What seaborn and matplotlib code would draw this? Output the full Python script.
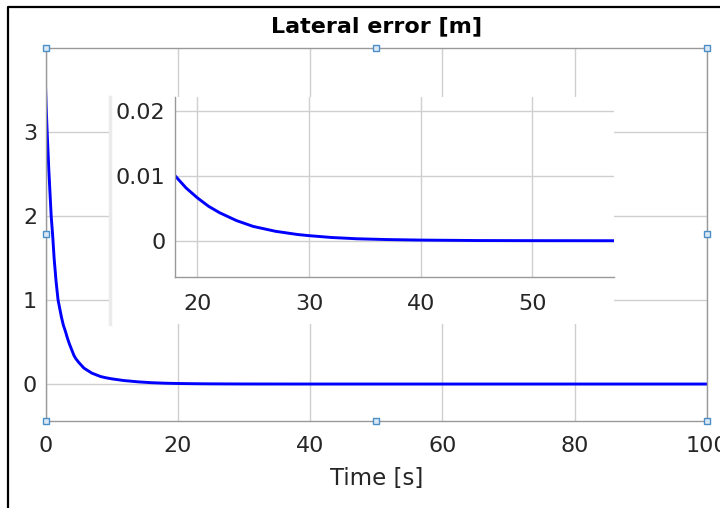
import pandas as pd
import matplotlib
matplotlib.use('Agg')
import matplotlib.pyplot as plt
from matplotlib.lines import Line2D
import seaborn as sns

# Values (MATLAB figure with zoomed inset)
time_s = [0, 0.1, 0.25, 0.5, 0.86, 1.1, 1.3, 1.6, 1.9, 2.1, 2.4, 2.7, 3.0,
          3.3, 3.6, 3.9, 4.3, 4.6, 5.0, 5.8, 6.4, 7.0, 8.3, 9.1, 10.0, 11.8,
          14.0, 16.0, 18.0, 19.0, 20.0, 21.0, 22.0, 23.5, 25.0, 27.0, 29.0,
          30.0, 32.0, 34.3, 37.0, 40.0, 45.0, 50.0, 57.0, 70.0, 85.0, 100.0]
lateral_err = [3.55, 3.3, 3.0, 2.55, 2.0, 1.75, 1.5, 1.22, 1.0, 0.92, 0.8,
               0.7, 0.63, 0.55, 0.48, 0.42, 0.34, 0.30, 0.26, 0.19, 0.16,
               0.13, 0.09, 0.075, 0.062, 0.042, 0.026, 0.016, 0.0100, 0.0081,
               0.0066, 0.0053, 0.0043, 0.0031, 0.0022, 0.00145, 0.00095,
               0.00078, 0.0005, 0.0003, 0.00018, 0.0001, 0.00003, 0.00001,
               0.0, 0.0, 0.0, 0.0]

main_xticks = [0, 20, 40, 60, 80, 100]
main_yticks = [0, 1, 2, 3]
inset_xticks = [20, 30, 40, 50]
inset_yticks = [0, 0.01, 0.02]
inset_ylabels = ['0', '0.01', '0.02']

df = pd.DataFrame({'time': time_s, 'err': lateral_err})

sns.set_style('white')
plt.rcParams['font.family'] = ['DejaVu Sans']

LINE = '#0000ff'
GRID = '#cfcfcf'
SPINE = '#999999'
TXT = '#262626'
FS = 16

fig = plt.figure(figsize=(7.2, 5.08), dpi=100)

# outer window border (left and top only visible)
fig.add_artist(Line2D([8 / 720, 8 / 720, 1.0], [0.0, 1 - 7 / 508, 1 - 7 / 508],
                      transform=fig.transFigure, color='black', lw=1.6))

# main axes
ax = fig.add_axes([45.5 / 720, 1 - 421 / 508, (707 - 45.5) / 720, (421 - 48) / 508])
sns.lineplot(data=df, x='time', y='err', ax=ax, color=LINE, lw=2.1)
ax.set_xlim(0, 100)
ax.set_ylim(-0.44, 4.0)
ax.set_xticks(main_xticks)
ax.set_yticks(main_yticks)
ax.set_xticklabels([str(v) for v in main_xticks])
ax.set_yticklabels([str(v) for v in main_yticks])
ax.grid(True, color=GRID, lw=1.0)
ax.tick_params(direction='in', length=4, color=SPINE, labelsize=FS, labelcolor=TXT)
ax.tick_params(axis='x', pad=11)
ax.tick_params(axis='y', pad=6)
for s in ax.spines.values():
    s.set_visible(True)
    s.set_color(SPINE)
    s.set_linewidth(1.0)
ax.set_title('Lateral error [m]', fontsize=16, fontweight='bold', color='black', pad=11)
ax.set_xlabel('Time [s]', fontsize=16.5, color=TXT, labelpad=8)
ax.set_ylabel('')

# selection handles of the figure editor
hx = [0, 0.5, 1, 0, 1, 0, 0.5, 1]
hy = [1, 1, 1, 0.5, 0.5, 0, 0, 0]
ax.plot(hx, hy, ls='none', marker='s', ms=4.5, mfc='#dbe9f5', mec='#4b8fc9',
        mew=1.0, transform=ax.transAxes, clip_on=False, zorder=5)

# white backdrop of the pasted inset
bg = fig.add_axes([110 / 720, 1 - 324 / 508, (614 - 110) / 720, (324 - 97) / 508])
bg.set_facecolor('white')
bg.set_xticks([])
bg.set_yticks([])
for name, s in bg.spines.items():
    s.set_visible(name == 'left')
bg.spines['left'].set_color('#ebebeb')
bg.spines['left'].set_linewidth(2.5)
bg.set_zorder(2)

# inset axes
ins = fig.add_axes([175 / 720, 1 - 276.5 / 508, (614 - 175) / 720, (276.5 - 97) / 508])
ins.set_zorder(3)
ins.patch.set_alpha(0)
sns.lineplot(data=df, x='time', y='err', ax=ins, color=LINE, lw=2.1)
ins.set_xlim(18, 57.3)
ins.set_ylim(-0.0055, 0.0221)
ins.set_xticks(inset_xticks)
ins.set_yticks(inset_yticks)
ins.set_xticklabels([str(v) for v in inset_xticks])
ins.set_yticklabels(inset_ylabels)
ins.grid(True, color=GRID, lw=1.0)
ins.tick_params(direction='in', length=4, color=SPINE, labelsize=FS, labelcolor=TXT)
ins.tick_params(axis='x', pad=12.5)
ins.tick_params(axis='y', pad=7)
for name, s in ins.spines.items():
    s.set_visible(name in ('left', 'bottom'))
    s.set_color(SPINE)
    s.set_linewidth(1.0)
ins.set_xlabel('')
ins.set_ylabel('')

fig.savefig('out.png', dpi=100, facecolor='white')
